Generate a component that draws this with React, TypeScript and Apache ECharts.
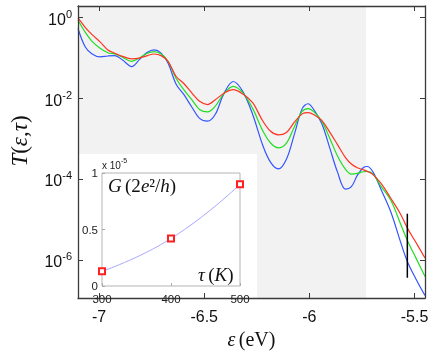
import React, { useEffect, useRef } from "react";
import * as echarts from "echarts";

// energy grid (eV)
const epsilon = [-7.1, -7.066, -7.033, -6.995, -6.958, -6.925, -6.888, -6.845, -6.808, -6.77, -6.738, -6.705, -6.672, -6.634, -6.597, -6.559, -6.522, -6.484, -6.447, -6.409, -6.362, -6.316, -6.269, -6.222, -6.184, -6.147, -6.109, -6.072, -6.034, -6.006, -5.978, -5.941, -5.903, -5.866, -5.828, -5.8, -5.772, -5.744, -5.725, -5.697, -5.659, -5.612, -5.566, -5.533, -5.495, -5.45];
// log10 T(eps, tau) for three temperatures
const log10T_300K = [-0.27, -0.72, -0.9, -0.97, -0.95, -0.94, -1.05, -1.21, -1.04, -0.86, -0.8, -0.88, -1.12, -1.64, -1.9, -2.21, -2.49, -2.56, -2.39, -1.91, -1.58, -1.83, -2.4, -3.15, -3.58, -3.74, -3.5, -2.9, -2.25, -2.13, -2.28, -2.62, -3.22, -3.82, -4.24, -4.18, -3.9, -3.71, -3.68, -3.82, -4.25, -4.81, -5.55, -6.04, -6.44, -6.87];
const log10T_400K = [-0.06, -0.36, -0.59, -0.76, -0.87, -0.9, -0.98, -1.08, -1.0, -0.88, -0.84, -0.9, -1.08, -1.5, -1.78, -2.03, -2.27, -2.33, -2.19, -1.9, -1.7, -1.86, -2.25, -2.79, -3.1, -3.22, -3.1, -2.71, -2.32, -2.25, -2.33, -2.56, -2.98, -3.42, -3.75, -3.87, -3.85, -3.81, -3.8, -3.87, -4.17, -4.52, -5.1, -5.52, -5.92, -6.4];
const log10T_500K = [-0.01, -0.24, -0.42, -0.6, -0.8, -0.88, -0.96, -1.02, -1.0, -0.94, -0.9, -0.94, -1.08, -1.45, -1.63, -1.86, -2.07, -2.15, -2.03, -1.88, -1.78, -1.89, -2.11, -2.55, -2.81, -2.9, -2.84, -2.59, -2.38, -2.35, -2.4, -2.54, -2.83, -3.14, -3.46, -3.62, -3.71, -3.76, -3.8, -3.88, -4.1, -4.47, -4.86, -5.21, -5.54, -5.94];

const xTicks = [-7, -6.5, -6, -5.5];
const yTickExponents = [-6, -4, -2, 0];
const shadedRange = [-7.1, -5.73];
const markerEps = [-5.534, -5.534];
const markerLog10T = [-4.85, -6.43];

// inset
const tau = [300, 400, 500];
const conductance = [0.13, 0.42, 0.9]; // x 1e-5 (2e^2/h)
const tauTicks = [300, 400, 500];
const gTicks = [0, 0.5, 1];

const SANS = "Liberation Sans";
const SERIF = "Liberation Serif";

export default function App() {
  const ref = useRef<HTMLDivElement>(null);
  useEffect(() => {
    const chart = echarts.init(ref.current!, null, { renderer: "svg" });
    const axisColor = "#3a3a3a";
    const axLine = () => ({ show: true, onZero: false, lineStyle: { color: axisColor, width: 1.3 } });
    const mainTick = (vals: number[]) => ({ show: true, inside: true, length: 5, customValues: vals, lineStyle: { color: axisColor, width: 1 } });
    const insetTick = (vals: number[]) => ({ show: true, inside: true, length: 3, customValues: vals, lineStyle: { color: "#aaaaaa", width: 1 } });
    const toPairs = (ys: number[]) => epsilon.map((e, i) => [e, ys[i]]);
    const curve = (name: string, ys: number[], color: string) => ({
      name,
      type: "line",
      xAxisIndex: 0,
      yAxisIndex: 0,
      data: toPairs(ys),
      smooth: 0.35,
      symbol: "none",
      lineStyle: { color, width: 1.2 },
      z: 3,
    });

    chart.setOption({
      animation: false,
      grid: [
        { left: 73, top: 6, right: 11, bottom: 45, show: false },
        { left: 102, top: 173, width: 138, height: 113, show: true, borderColor: "#b4b4b4", borderWidth: 1, backgroundColor: "transparent", z: 6 },
      ],
      xAxis: [
        {
          type: "value", gridIndex: 0, position: "bottom", min: -7.1, max: -5.45, z: 5,
          axisLine: axLine(), axisTick: mainTick(xTicks), splitLine: { show: false },
          axisLabel: { customValues: xTicks, formatter: (v: number) => String(v), fontFamily: SANS, fontSize: 16, color: "#111", margin: 10 },
          name: "{i|ε} {r|(eV)}", nameLocation: "middle", nameGap: 31,
          nameTextStyle: {
            rich: {
              i: { fontFamily: SERIF, fontStyle: "italic", fontSize: 20, color: "#111" },
              r: { fontFamily: SERIF, fontSize: 20, color: "#111" },
            },
          },
        },
        {
          type: "value", gridIndex: 0, position: "top", min: -7.1, max: -5.45, z: 5,
          axisLine: axLine(), axisTick: mainTick(xTicks), axisLabel: { show: false }, splitLine: { show: false },
        },
        {
          type: "value", gridIndex: 1, position: "bottom", min: 300, max: 500, z: 7,
          axisLine: { show: false }, axisTick: insetTick(tauTicks), splitLine: { show: false },
          axisLabel: { customValues: tauTicks, formatter: (v: number) => String(v), fontFamily: SANS, fontSize: 11.5, lineHeight: 11, color: "#222", margin: 7 },
        },
      ],
      yAxis: [
        {
          type: "value", gridIndex: 0, position: "left", min: -6.93, max: 0.286, z: 5,
          axisLine: axLine(), axisTick: mainTick(yTickExponents), splitLine: { show: false },
          axisLabel: {
            customValues: yTickExponents, margin: 6,
            formatter: (v: number) => `{b|10}{s|${v}}`,
            rich: {
              b: { fontFamily: SANS, fontSize: 16, color: "#111", lineHeight: 19, verticalAlign: "bottom" },
              s: { fontFamily: SANS, fontSize: 11, color: "#111", lineHeight: 12, verticalAlign: "top" },
            },
          },
          name: "{i|T}{r|(}{i|ε}{r|,}{i|τ}{r|)}", nameLocation: "middle", nameRotate: 90, nameGap: 47,
          nameTextStyle: {
            padding: [0, 0, 0, 22],
            rich: {
              i: { fontFamily: SERIF, fontStyle: "italic", fontSize: 23, color: "#111" },
              r: { fontFamily: SERIF, fontSize: 23, color: "#111" },
            },
          },
        },
        {
          type: "value", gridIndex: 0, position: "right", min: -6.93, max: 0.286, z: 5,
          axisLine: axLine(), axisTick: mainTick(yTickExponents), axisLabel: { show: false }, splitLine: { show: false },
        },
        {
          type: "value", gridIndex: 1, position: "left", min: 0, max: 1, z: 7,
          axisLine: { show: false }, axisTick: insetTick(gTicks), splitLine: { show: false },
          axisLabel: { customValues: gTicks, formatter: (v: number) => String(v), fontFamily: SANS, fontSize: 11.5, lineHeight: 11, color: "#222", margin: 4 },
          name: "{a|x 10}{s|-5}", nameLocation: "end", nameGap: 3,
          nameTextStyle: {
            align: "left",
            rich: {
              a: { fontFamily: SANS, fontSize: 10, color: "#222", lineHeight: 13, verticalAlign: "bottom" },
              s: { fontFamily: SANS, fontSize: 7, color: "#222", lineHeight: 8, verticalAlign: "top" },
            },
          },
        },
      ],
      series: [
        {
          name: "shade", type: "line", xAxisIndex: 0, yAxisIndex: 0, data: [], z: 1, symbol: "none",
          markArea: {
            silent: true,
            label: { show: false },
            itemStyle: { color: "#f2f2f2", opacity: 1 },
            data: [[{ xAxis: shadedRange[0] }, { xAxis: shadedRange[1] }]],
          },
        },
        curve("300 K", log10T_300K, "#3355ff"),
        curve("400 K", log10T_400K, "#22dd22"),
        curve("500 K", log10T_500K, "#ff3322"),
        {
          name: "marker", type: "line", xAxisIndex: 0, yAxisIndex: 0, symbol: "none", z: 4,
          data: markerEps.map((e, i) => [e, markerLog10T[i]]),
          lineStyle: { color: "#000", width: 1.5 },
        },
        {
          name: "G", type: "line", xAxisIndex: 2, yAxisIndex: 2, z: 10,
          data: tau.map((t, i) => [t, conductance[i]]),
          smooth: true,
          lineStyle: { color: "#a8a8ff", width: 1 },
          symbol: "emptyRect", symbolSize: 6,
          itemStyle: { color: "#ff2020", borderColor: "#ff2020", borderWidth: 1 },
        },
      ],
      graphic: [
        { type: "rect", z: 5, shape: { x: 79, y: 154, width: 178, height: 148 }, style: { fill: "#ffffff" } },
        {
          type: "text", z: 20, x: 108, y: 185,
          style: {
            text: "{i|G} {r|(2}{i|e}{r|²/}{i|h}{r|)}", verticalAlign: "middle",
            rich: {
              i: { fontFamily: SERIF, fontStyle: "italic", fontSize: 19, fill: "#111" },
              r: { fontFamily: SERIF, fontSize: 19, fill: "#111" },
            },
          },
        },
        {
          type: "text", z: 20, x: 198, y: 274,
          style: {
            text: "{i|τ} {r|(}{i|K}{r|)}", verticalAlign: "middle",
            rich: {
              i: { fontFamily: SERIF, fontStyle: "italic", fontSize: 19, fill: "#111" },
              r: { fontFamily: SERIF, fontSize: 19, fill: "#111" },
            },
          },
        },
      ],
    });
    return () => chart.dispose();
  }, []);
  return <div ref={ref} style={{ position: "fixed", left: 0, top: 0, width: 436, height: 354 }} />;
}
